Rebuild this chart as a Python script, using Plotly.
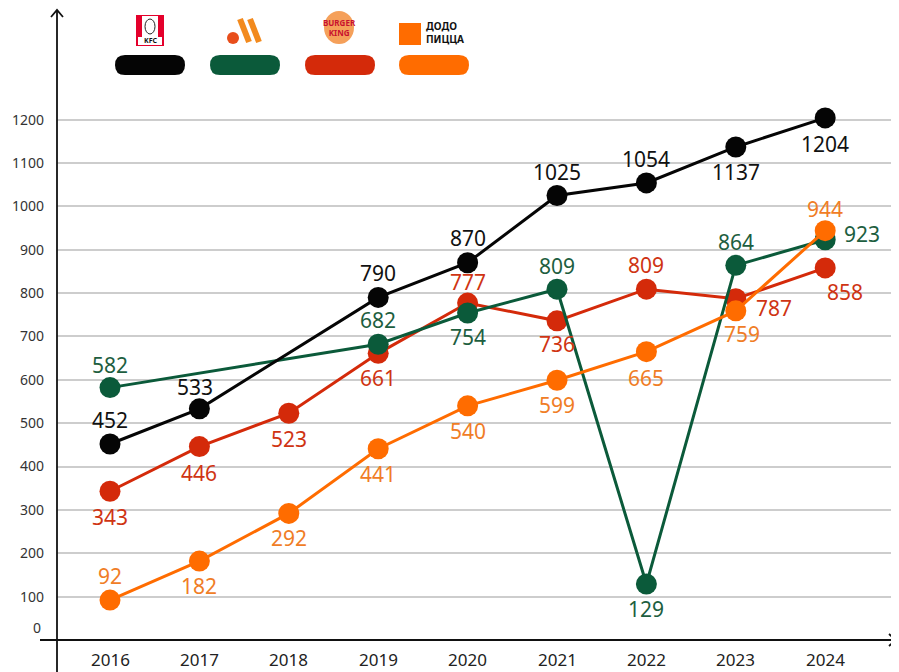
import plotly.graph_objects as go

years = [2016, 2017, 2018, 2019, 2020, 2021, 2022, 2023, 2024]
kfc = [452, 533, None, 790, 870, 1025, 1054, 1137, 1204]
vkusno = [582, None, None, 682, 754, 809, 129, 864, 923]
burger_king = [343, 446, 523, 661, 777, 736, 809, 787, 858]
dodo = [92, 182, 292, 441, 540, 599, 665, 759, 944]
y_ticks = [100, 200, 300, 400, 500, 600, 700, 800, 900, 1000, 1100, 1200]

# label placement per point: (dx, dy) in pixels
kfc_pos = [(0, 24), (-4, 22), None, (0, 24), (0, 25), (0, 24), (0, 24), (0, -25), (0, -26)]
vk_pos = [(0, 23), None, None, (0, 24), (0, -24), (0, 23), (0, -25), (0, 23), (37, 6)]
bk_pos = [(0, -26), (0, -26), (0, -26), (0, -25), (0, 21), (0, -23), (0, 24), (38, -9), (20, -24)]
dd_pos = [(0, 24), (0, -25), (0, -25), (0, -25), (0, -25), (0, -25), (0, -26), (6, -23), (0, 22)]

C_KFC = "#050505"
C_VK = "#0b5a3a"
C_BK = "#d42a0a"
C_DD = "#ff6c00"
L_VK = "#1d5e40"
L_BK = "#cf3413"
L_DD = "#f07d26"

OFF = 8  # page body margin
PW, PH = 899, 672
W, H = PW - OFF, PH - OFF
AX_X = 57   # page x of y-axis
AX_Y = 640  # page y of x-axis
L, R, T, B = AX_X - OFF, 0, 0, PH - AX_Y
PLOT_H = H - B - T
PX100 = (597 - 120) / 11.0
YMAX = PLOT_H / PX100 * 100
XSTEP = 89.4
X0 = 2016 - (110 - AX_X) / XSTEP
X1 = 2016 + (PW - 110) / XSTEP


def px(x):
    # page pixel x -> paper
    return (x - OFF - L) / (W - L - R)


def py(y):
    # page pixel y -> paper
    return (H - B - (y - OFF)) / PLOT_H


FONT = "Noto Sans"

fig = go.Figure()
series = [
    (burger_king, C_BK, L_BK, bk_pos, "Burger King"),
    (vkusno, C_VK, L_VK, vk_pos, "Вкусно и точка"),
    (kfc, C_KFC, "#111111", kfc_pos, "KFC"),
    (dodo, C_DD, L_DD, dd_pos, "Додо Пицца"),
]
for vals, col, lcol, pos, name in series:
    fig.add_trace(go.Scatter(
        x=years, y=vals, mode="lines+markers", name=name,
        connectgaps=True,
        line=dict(color=col, width=3),
        marker=dict(color=col, size=21),
        showlegend=False, hoverinfo="skip",
    ))
    for x, v, p in zip(years, vals, pos):
        if v is None or p is None:
            continue
        fig.add_annotation(
            x=x, y=v, text=str(v), showarrow=False,
            xshift=p[0], yshift=p[1], yanchor="middle",
            font=dict(family=FONT, size=21, color=lcol),
        )

# x-axis year labels
for yr in years:
    fig.add_annotation(x=yr, xref="x", yref="paper", y=py(659), text=str(yr),
                       showarrow=False, yanchor="middle", borderpad=0,
                       font=dict(family=FONT, size=17, color="#222"))

shapes = []
# axis lines with arrows
shapes.append(dict(type="line", xref="paper", yref="paper",
                   x0=px(57), x1=px(57), y0=py(672), y1=py(10),
                   line=dict(color="#111", width=1.8)))
shapes.append(dict(type="path", xref="paper", yref="paper",
                   path=f"M {px(51)} {py(17)} L {px(57)} {py(10)} L {px(63)} {py(17)}",
                   line=dict(color="#111", width=1.8)))
shapes.append(dict(type="line", xref="paper", yref="paper",
                   x0=px(40), x1=px(896), y0=py(640), y1=py(640),
                   line=dict(color="#111", width=1.8)))
shapes.append(dict(type="path", xref="paper", yref="paper",
                   path=f"M {px(889)} {py(634)} L {px(896)} {py(640)} L {px(889)} {py(646)}",
                   line=dict(color="#111", width=1.8)))

# legend pills
pill_cols = [C_KFC, C_VK, C_BK, C_DD]
pill_cx = [150, 245, 340, 434]
for c, cx in zip(pill_cols, pill_cx):
    x0, x1, y0, y1, r = cx - 35, cx + 35, 55, 75, 10
    path = (f"M {px(x0 + r)} {py(y0)} L {px(x1 - r)} {py(y0)} "
            f"Q {px(x1)} {py(y0)} {px(x1)} {py(y0 + r)} "
            f"Q {px(x1)} {py(y1)} {px(x1 - r)} {py(y1)} "
            f"L {px(x0 + r)} {py(y1)} "
            f"Q {px(x0)} {py(y1)} {px(x0)} {py(y0 + r)} "
            f"Q {px(x0)} {py(y0)} {px(x0 + r)} {py(y0)} Z")
    shapes.append(dict(type="path", xref="paper", yref="paper", path=path,
                       fillcolor=c, line=dict(width=0)))

# KFC logo approximation
shapes.append(dict(type="rect", xref="paper", yref="paper",
                   x0=px(136), x1=px(164), y0=py(46), y1=py(15),
                   fillcolor="#e4002b", line=dict(width=0)))
shapes.append(dict(type="rect", xref="paper", yref="paper",
                   x0=px(138), x1=px(162), y0=py(45), y1=py(37),
                   fillcolor="#ffffff", line=dict(width=0)))
shapes.append(dict(type="rect", xref="paper", yref="paper",
                   x0=px(142), x1=px(158), y0=py(37), y1=py(16),
                   fillcolor="#ffffff", line=dict(width=0)))
shapes.append(dict(type="circle", xref="paper", yref="paper",
                   x0=px(145), x1=px(155), y0=py(34), y1=py(19),
                   fillcolor="#ffffff", line=dict(color="#222", width=1)))
# Vkusno logo approximation
shapes.append(dict(type="circle", xref="paper", yref="paper",
                   x0=px(227), x1=px(239), y0=py(44), y1=py(32),
                   fillcolor="#e84e1b", line=dict(width=0)))
for sx in (240, 250):
    shapes.append(dict(type="line", xref="paper", yref="paper",
                       x0=px(sx), x1=px(sx + 9), y0=py(19), y1=py(42),
                       line=dict(color="#f28a1e", width=6)))
# Burger King logo approximation
shapes.append(dict(type="circle", xref="paper", yref="paper",
                   x0=px(324), x1=px(354), y0=py(44), y1=py(11),
                   fillcolor="#f5a05a", line=dict(width=0)))
# Dodo logo approximation
shapes.append(dict(type="rect", xref="paper", yref="paper",
                   x0=px(399), x1=px(421), y0=py(45), y1=py(23),
                   fillcolor="#ff6c00", line=dict(width=0)))

fig.add_annotation(xref="paper", yref="paper", x=px(150), y=py(41), text="<b>KFC</b>",
                   showarrow=False, xanchor="center", yanchor="middle",
                   font=dict(family=FONT, size=7, color="#111"))
fig.add_annotation(xref="paper", yref="paper", x=px(339), y=py(28),
                   text="<b>BURGER<br>KING</b>", showarrow=False, yanchor="middle",
                   font=dict(family=FONT, size=8, color="#c8102e"))
fig.add_annotation(xref="paper", yref="paper", x=px(424), y=py(33),
                   text="<b>ДОДО<br>ПИЦЦА</b>", showarrow=False, xanchor="left",
                   yanchor="middle", align="left",
                   font=dict(family=FONT, size=10, color="#111"))

# "0" tick label
fig.add_annotation(xref="paper", yref="paper", x=px(43), y=py(627), text="0",
                   showarrow=False, xanchor="right", yanchor="middle",
                   font=dict(family=FONT, size=14, color="#333"))

fig.update_layout(
    width=W, height=H,
    margin=dict(l=L, r=R, t=T, b=B, autoexpand=False),
    paper_bgcolor="white", plot_bgcolor="white",
    shapes=shapes,
    xaxis=dict(range=[X0, X1], showticklabels=False,
               showgrid=False, zeroline=False, showline=False, ticks="",
               fixedrange=True),
    yaxis=dict(range=[0, YMAX], tickvals=y_ticks, ticktext=[str(v) for v in y_ticks],
               showgrid=True, gridcolor="#cdcdcd", gridwidth=1.5,
               zeroline=False, showline=False, ticks="",
               ticklabelstandoff=12,
               tickfont=dict(family=FONT, size=14, color="#333"),
               fixedrange=True),
    showlegend=False,
)

fig.write_html("out.html")
